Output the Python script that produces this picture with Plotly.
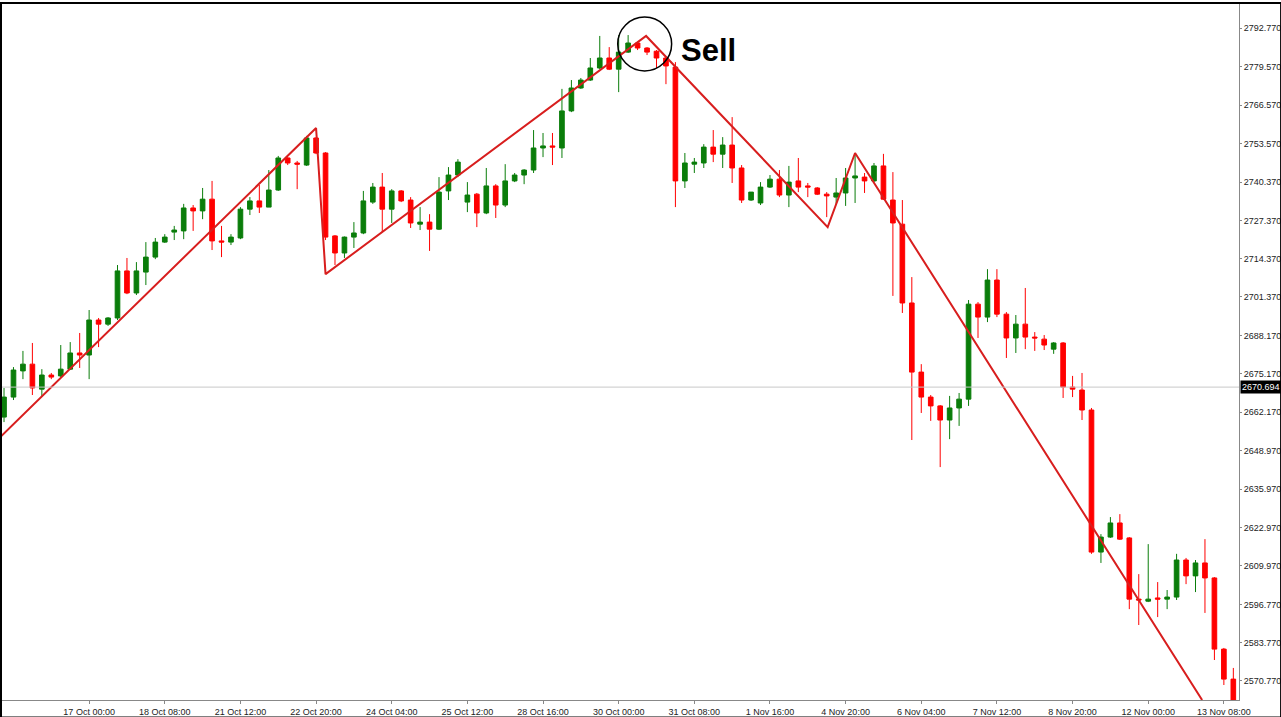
import plotly.graph_objects as go

idx = list(range(131))
open_ = [2660.5,2667.3,2676.2,2678.5,2670.0,2674.8,2674.5,2676.8,2682.3,2681.6,
2693.5,2692.1,2694.2,2710.2,2702.7,2709.8,2714.9,2720.0,2723.4,2723.8,
2731.6,2730.6,2734.6,2720.4,2720.0,2721.4,2731.2,2734.0,2731.9,2737.7,
2748.6,2746.9,2746.2,2755.4,2750.3,2722.1,2716.3,2721.7,2723.1,2733.6,
2738.7,2731.2,2737.4,2734.3,2726.1,2726.8,2724.4,2737.4,2742.8,2733.6,
2736.3,2729.9,2739.1,2732.6,2740.8,2742.8,2744.5,2752.0,2752.7,2752.0,
2764.6,2772.4,2775.1,2779.2,2782.6,2778.8,2784.6,2787.7,2786.0,2784.9,
2782.6,2779.5,2740.8,2746.5,2746.9,2752.3,2749.9,2753.0,2745.2,2734.3,
2733.3,2738.7,2741.4,2736.0,2740.8,2739.1,2738.4,2736.3,2735.3,2736.7,
2741.8,2742.1,2740.8,2745.9,2734.3,2726.1,2699.3,2675.8,2667.3,2664.3,
2659.5,2663.6,2666.6,2698.9,2694.5,2707.1,2695.5,2687.4,2692.1,2687.7,
2687.0,2683.6,2685.7,2670.7,2669.7,2662.9,2614.6,2619.7,2624.5,2619.4,
2598.6,2597.9,2599.0,2598.6,2599.3,2611.9,2606.5,2610.9,2605.8,2581.6,2571.4]
high = [2670.4,2677.5,2683.0,2685.7,2676.8,2675.5,2685.0,2686.0,2689.1,2696.9,
2694.2,2694.5,2712.2,2714.6,2713.2,2720.0,2721.4,2722.7,2725.5,2733.0,
2732.6,2738.4,2740.8,2725.5,2722.7,2731.9,2735.3,2739.4,2744.5,2749.3,
2748.9,2747.6,2756.1,2755.7,2750.6,2722.4,2721.9,2726.8,2737.4,2740.1,
2743.5,2738.0,2737.7,2735.3,2731.9,2729.5,2742.1,2745.5,2748.2,2740.4,
2736.7,2745.2,2739.7,2746.5,2743.5,2744.8,2758.1,2757.1,2757.1,2772.1,
2775.1,2775.8,2782.6,2790.1,2786.3,2790.4,2790.4,2788.0,2786.3,2785.3,
2782.9,2781.2,2750.3,2748.6,2753.3,2758.1,2755.7,2762.5,2746.2,2737.0,
2740.4,2742.8,2744.5,2745.9,2748.6,2740.1,2738.7,2737.0,2741.8,2745.2,
2750.3,2743.5,2746.9,2750.0,2743.8,2734.3,2708.1,2678.5,2668.0,2664.6,
2667.7,2668.7,2700.3,2699.6,2710.8,2710.8,2696.2,2695.2,2704.4,2689.4,
2688.4,2686.0,2686.0,2674.5,2675.5,2663.6,2620.7,2626.5,2627.5,2619.7,
2607.1,2617.3,2604.4,2601.7,2614.0,2612.6,2611.9,2619.0,2606.1,2582.0,2575.2]
low = [2658.8,2666.3,2673.4,2668.0,2667.7,2673.4,2674.1,2676.5,2677.2,2673.4,
2684.3,2691.5,2693.5,2702.3,2702.0,2705.4,2714.2,2719.7,2720.7,2721.0,
2723.8,2727.8,2717.3,2714.9,2719.0,2721.0,2729.2,2729.9,2731.9,2737.4,
2746.2,2738.0,2745.9,2749.9,2720.7,2712.2,2714.6,2718.0,2722.7,2733.0,
2723.4,2726.5,2733.6,2724.8,2724.1,2717.0,2724.1,2734.3,2742.1,2730.2,
2725.1,2729.5,2728.2,2731.9,2740.4,2739.7,2743.5,2748.9,2746.2,2748.6,
2764.2,2772.1,2774.8,2778.8,2778.5,2771.0,2784.3,2785.3,2783.6,2779.2,
2773.7,2731.9,2738.4,2743.5,2745.2,2747.2,2745.2,2740.1,2733.3,2734.0,
2732.6,2738.4,2735.3,2731.9,2737.0,2735.3,2736.0,2728.5,2732.6,2732.3,
2733.3,2736.7,2740.4,2734.3,2701.7,2695.9,2652.7,2661.9,2659.2,2643.5,
2653.0,2657.5,2664.3,2687.4,2692.8,2694.5,2680.6,2682.3,2683.6,2683.0,
2683.3,2682.0,2667.0,2667.3,2659.5,2614.0,2610.9,2619.4,2618.7,2595.2,
2589.8,2597.6,2592.5,2595.2,2598.3,2603.7,2601.0,2593.9,2577.9,2569.4,2563.6]
close = [2667.3,2676.5,2678.5,2670.4,2674.8,2674.1,2676.8,2682.3,2681.6,2693.5,
2692.1,2694.2,2710.2,2702.7,2710.2,2714.9,2720.0,2721.7,2724.1,2731.6,
2730.6,2734.6,2720.4,2720.0,2721.7,2731.2,2734.0,2731.9,2737.7,2748.6,
2746.9,2746.5,2755.4,2750.3,2721.7,2716.3,2721.7,2723.1,2734.0,2738.7,
2731.2,2737.4,2734.0,2726.5,2726.8,2724.4,2737.0,2742.8,2747.2,2736.0,
2729.9,2739.1,2732.6,2740.8,2742.8,2744.5,2752.0,2752.7,2752.3,2764.6,
2772.4,2775.1,2779.2,2782.6,2778.8,2784.6,2787.7,2786.0,2784.6,2782.6,
2779.9,2740.8,2746.9,2747.2,2752.3,2749.9,2753.0,2745.2,2734.3,2737.0,
2738.7,2741.4,2736.0,2740.4,2738.7,2738.7,2736.3,2735.7,2736.7,2741.8,
2742.5,2740.8,2745.9,2734.6,2726.5,2699.3,2675.8,2667.3,2664.3,2659.5,
2663.6,2666.6,2698.9,2694.5,2707.1,2695.5,2687.4,2692.1,2687.7,2687.4,
2685.0,2685.7,2670.7,2670.0,2662.9,2614.6,2619.7,2624.5,2619.0,2598.6,
2598.3,2598.6,2598.6,2599.3,2611.9,2606.5,2610.9,2605.8,2581.6,2571.4,2563.6]

zig_x = [-0.4, 33.0, 34.0, 67.9, 87.1, 90.0, 126.7]
zig_y = [2653.7, 2758.8, 2709.1, 2790.1, 2725.1, 2750.3, 2564.3]

tick_vals = [2792.770,2779.570,2766.570,2753.570,2740.370,2727.370,2714.370,2701.370,
             2688.170,2675.170,2662.170,2648.970,2635.970,2622.970,2609.970,2596.770,
             2583.770,2570.770]
x_tick_pos = [9,17,25,33,41,49,57,65,73,81,89,97,105,113,121,129]
x_tick_text = ["17 Oct 00:00","18 Oct 08:00","21 Oct 12:00","22 Oct 20:00","24 Oct 04:00",
               "25 Oct 12:00","28 Oct 16:00","30 Oct 00:00","31 Oct 08:00","1 Nov 16:00",
               "4 Nov 20:00","6 Nov 04:00","7 Nov 12:00","8 Nov 20:00","12 Nov 00:00",
               "13 Nov 08:00"]
current_price = 2670.694

fig = go.Figure()
fig.add_trace(go.Candlestick(
    x=idx, open=open_, high=high, low=low, close=close,
    increasing=dict(line=dict(color="#0a7d0a", width=1), fillcolor="#0a7d0a"),
    decreasing=dict(line=dict(color="#ff0000", width=1), fillcolor="#ff0000"),
    whiskerwidth=0, showlegend=False, hoverinfo="skip"))
fig.add_trace(go.Scatter(x=zig_x, y=zig_y, mode="lines",
                         line=dict(color="#d81e1e", width=2), showlegend=False, hoverinfo="skip"))

fig.add_hline(y=current_price, line=dict(color="#c8c8c8", width=1))
fig.add_shape(type="circle", xref="x", yref="y", x0=64.9, x1=70.6, y0=2778.2, y1=2796.5,
              line=dict(color="black", width=1.5))
fig.add_annotation(x=71.4, y=2785.3, text="<b>Sell</b>", showarrow=False, xanchor="left",
                   font=dict(family="Liberation Sans, Arial", size=31, color="black"))
fig.add_annotation(xref="paper", x=1.001, y=current_price, text="2670.694", showarrow=False,
                   xanchor="left", bgcolor="black", font=dict(color="white", size=9,
                   family="Liberation Sans"), borderpad=1)
fig.add_shape(type="rect", xref="paper", yref="paper", x0=0.0, x1=1.034, y0=-0.025, y1=1.0,
              line=dict(color="black", width=2))

fig.update_layout(
    width=1281, height=717, margin=dict(l=1, r=42, t=3, b=17, autoexpand=False),
    paper_bgcolor="white", plot_bgcolor="white",
    font=dict(family="Liberation Sans", size=9, color="#222"),
    xaxis=dict(range=[-0.32, 130.6], rangeslider=dict(visible=False), showgrid=False,
               zeroline=False, tickmode="array", tickvals=x_tick_pos, ticktext=x_tick_text,
               ticks="outside", ticklen=3, tickcolor="#888", showline=True, automargin=False,
               linecolor="#888", linewidth=1, tickfont=dict(size=9)),
    yaxis=dict(range=[2564.3, 2801.3], side="right", showgrid=False, zeroline=False,
               tickmode="array", tickvals=tick_vals, ticktext=[f"{v:.3f}" for v in tick_vals],
               ticks="outside", ticklen=2, tickcolor="#888", showline=True, automargin=False,
               linecolor="#888", linewidth=1, tickfont=dict(size=9)),
)
fig.write_html("out.html", config={"displayModeBar": False},
               post_script="document.body.style.margin='0';document.body.style.overflow='hidden';")
